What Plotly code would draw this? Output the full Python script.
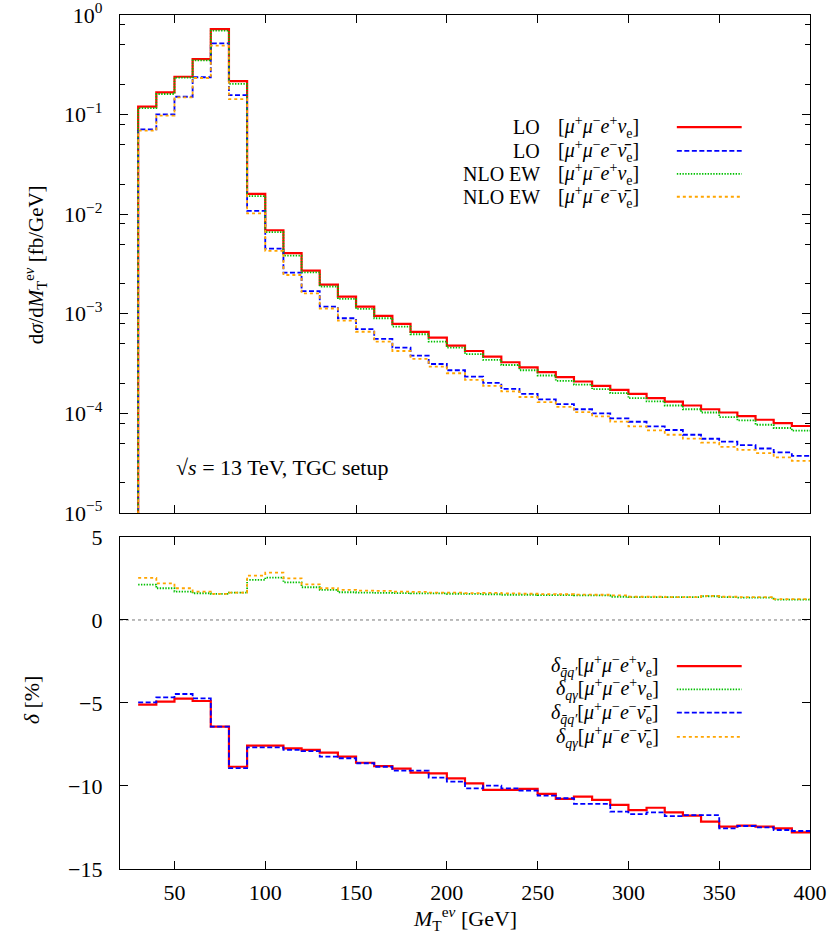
import plotly.graph_objects as go

# ---------------- data ----------------
bin_edges = list(range(30, 410, 10))  # 30 ... 400 GeV, 10 GeV bins

lo_plus = [0.120, 0.167, 0.240, 0.361, 0.723, 0.217, 0.0160, 0.00690, 0.00406, 0.00271,
           0.00196, 0.00149, 0.00118, 0.000951, 0.000791, 0.000657, 0.000575, 0.000478,
           0.000423, 0.000371, 0.000326, 0.000290, 0.000259, 0.000231, 0.000209, 0.000189,
           0.000172, 0.000157, 0.000142, 0.000131, 0.000120, 0.000110, 0.000102, 0.0000939,
           0.0000863, 0.0000800, 0.0000747]
lo_minus = [0.0711, 0.1007, 0.151, 0.237, 0.520, 0.157, 0.0108, 0.00452, 0.00259, 0.00169,
            0.00118, 0.000902, 0.000700, 0.000559, 0.000457, 0.000380, 0.000313, 0.000271,
            0.000234, 0.000202, 0.000176, 0.000157, 0.000138, 0.000124, 0.000110, 0.000100,
            0.0000889, 0.0000824, 0.0000740, 0.0000681, 0.0000610, 0.0000556, 0.0000521,
            0.0000480, 0.0000444, 0.0000405, 0.0000374]
nlo_plus = [0.116, 0.161, 0.235, 0.350, 0.696, 0.203, 0.0152, 0.00660, 0.00383, 0.00261,
            0.00188, 0.00141, 0.00112, 0.000902, 0.000743, 0.000623, 0.000525, 0.000457,
            0.000394, 0.000344, 0.000306, 0.000271, 0.000240, 0.000212, 0.000194, 0.000175,
            0.000160, 0.000142, 0.000132, 0.000120, 0.000110, 0.000102, 0.0000918, 0.0000849,
            0.0000769, 0.0000713, 0.0000671]
nlo_minus = [0.0690, 0.0977, 0.149, 0.233, 0.492, 0.143, 0.0102, 0.00428, 0.00245, 0.00160,
             0.00113, 0.000853, 0.000660, 0.000525, 0.000423, 0.000352, 0.000295, 0.000253,
             0.000217, 0.000189, 0.000166, 0.000146, 0.000130, 0.000116, 0.000103, 0.0000931,
             0.0000828, 0.0000740, 0.0000675, 0.0000610, 0.0000558, 0.0000509, 0.0000461,
             0.0000430, 0.0000398, 0.0000361, 0.0000334]

d_qq_plus = [-5.10, -4.92, -4.74, -4.88, -6.43, -8.84, -7.57, -7.57, -7.73, -7.83, -7.99,
             -8.23, -8.60, -8.80, -8.96, -9.20, -9.24, -9.54, -9.84, -10.24, -10.24, -10.18,
             -10.48, -10.78, -10.64, -10.84, -11.14, -11.45, -11.31, -11.59, -11.79, -12.15,
             -12.45, -12.39, -12.45, -12.55, -12.79]
d_qq_minus = [-4.96, -4.66, -4.46, -4.72, -6.43, -8.93, -7.67, -7.67, -7.83, -7.90, -8.23,
              -8.33, -8.63, -8.84, -9.08, -9.08, -9.50, -9.74, -10.14, -9.98, -10.14, -10.28,
              -10.58, -10.74, -11.08, -11.08, -11.55, -11.69, -11.59, -11.81, -11.75, -11.75,
              -12.55, -12.41, -12.49, -12.65, -12.71]
d_qg_plus = [2.13, 1.91, 1.71, 1.61, 1.57, 1.65, 2.41, 2.55, 2.27, 1.97, 1.81, 1.67, 1.65,
             1.63, 1.62, 1.60, 1.60, 1.58, 1.57, 1.55, 1.52, 1.52, 1.50, 1.50, 1.48, 1.48,
             1.40, 1.38, 1.38, 1.37, 1.38, 1.43, 1.38, 1.35, 1.35, 1.22, 1.22]
d_qg_minus = [2.53, 2.21, 1.91, 1.71, 1.57, 1.65, 2.67, 2.85, 2.51, 2.15, 1.91, 1.81, 1.77,
              1.75, 1.71, 1.69, 1.65, 1.65, 1.62, 1.63, 1.60, 1.58, 1.56, 1.55, 1.53, 1.52,
              1.48, 1.40, 1.40, 1.38, 1.38, 1.45, 1.40, 1.37, 1.38, 1.25, 1.25]

log_ticks = [1, 0.1, 0.01, 0.001, 0.0001, 0.00001]
log_tick_text = ["10<sup>0</sup>", "10<sup>−1</sup>", "10<sup>−2</sup>", "10<sup>−3</sup>",
                 "10<sup>−4</sup>", "10<sup>−5</sup>"]
delta_ticks = [5, 0, -5, -10, -15]
delta_tick_text = ["5", "0", "−5", "−10", "−15"]
x_ticks = [50, 100, 150, 200, 250, 300, 350, 400]
below_axis = 1e-7  # histogram is empty below 30 GeV (drawn off-scale)

# ---------------- styles ----------------
FONT = "Liberation Serif"
RED, BLUE, GREEN, ORANGE = "#ff0000", "#0000ff", "#00c000", "#ffa500"
st_red = dict(color=RED, width=2.2)
st_blue = dict(color=BLUE, width=1.8, dash="5px,2.5px")
st_green = dict(color=GREEN, width=1.8, dash="1.4px,1.4px")
st_orange = dict(color=ORANGE, width=1.8, dash="3px,3px")


def step_xy(vals, drop=False):
    xs = list(bin_edges[:-1]) + [bin_edges[-1]]
    ys = list(vals) + [vals[-1]]
    if drop:
        xs = [bin_edges[0]] + xs
        ys = [below_axis] + ys
    return xs, ys


fig = go.Figure()
for vals, st in [(lo_plus, st_red), (lo_minus, st_blue), (nlo_plus, st_green), (nlo_minus, st_orange)]:
    xs, ys = step_xy(vals, drop=True)
    fig.add_trace(go.Scatter(x=xs, y=ys, mode="lines", line=dict(shape="hv", **st),
                             xaxis="x", yaxis="y", showlegend=False))
for vals, st in [(d_qq_plus, st_red), (d_qg_plus, st_green), (d_qq_minus, st_blue), (d_qg_minus, st_orange)]:
    xs, ys = step_xy(vals)
    fig.add_trace(go.Scatter(x=xs, y=ys, mode="lines", line=dict(shape="hv", **st),
                             xaxis="x2", yaxis="y2", showlegend=False))

axis_common = dict(showline=True, linecolor="black", linewidth=1.2, mirror="ticks",
                   ticks="inside", tickcolor="black", tickwidth=1, showgrid=False,
                   zeroline=False, automargin=False, ticklabeloverflow="allow",
                   tickfont=dict(family=FONT, size=22, color="black"))

fig.update_layout(
    template="none",
    width=830, height=943,
    margin=dict(l=120, r=20, t=15, b=74),
    paper_bgcolor="white", plot_bgcolor="white",
    font=dict(family=FONT, color="black"),
    xaxis=dict(domain=[0, 1], anchor="y", range=[20, 400], tickvals=x_ticks,
               showticklabels=False, ticklen=8, **axis_common),
    yaxis=dict(domain=[0.4169, 1], anchor="x", type="log", range=[-5, 0],
               tickvals=log_ticks, ticktext=log_tick_text, ticklen=8, ticklabelstandoff=12,
               minor=dict(tickvals=[m * 10.0 ** e for e in range(-5, 0) for m in (2, 5, 8)],
                          ticks="inside", ticklen=5, tickcolor="black"),
               **axis_common),
    xaxis2=dict(domain=[0, 1], anchor="y2", range=[20, 400], tickvals=x_ticks,
                ticklen=8, ticklabelstandoff=3, **axis_common),
    yaxis2=dict(domain=[0, 0.3888], anchor="x2", range=[-15, 5],
                tickvals=delta_ticks, ticktext=delta_tick_text, ticklen=8,
                ticklabelstandoff=12, **axis_common),
)

# zero line in ratio panel
fig.add_shape(type="line", xref="x2 domain", x0=0, x1=1, yref="y2", y0=0, y1=0,
              line=dict(color="#777777", width=1, dash="3px,3px"), layer="below")

# ---------------- texts ----------------
ann_font = dict(family=FONT, size=20, color="black")
mu = "[<i>μ</i><sup>+</sup><i>μ</i><sup>−</sup>"
f_plus = mu + "<i>e</i><sup>+</sup><i>ν</i><sub>e</sub>]"
f_minus = mu + "<i>e</i><sup>−</sup><i>ν̄</i><sub>e</sub>]"

top_rows = [("LO", f_plus, st_red, 0.775), ("LO", f_minus, st_blue, 0.727),
            ("NLO EW", f_plus, st_green, 0.681), ("NLO EW", f_minus, st_orange, 0.635)]
for lab, form, st, yy in top_rows:
    fig.add_annotation(xref="x domain", yref="y domain", x=0.6116, y=yy, text=lab,
                       showarrow=False, xanchor="right", yanchor="middle", font=ann_font)
    fig.add_annotation(xref="x domain", yref="y domain", x=0.632, y=yy, text=form,
                       showarrow=False, xanchor="left", yanchor="middle", font=ann_font)
    fig.add_shape(type="line", xref="x domain", yref="y domain", x0=0.807, x1=0.901,
                  y0=yy, y1=yy, line=st)

d_qq = "<i>δ</i><sub><i>q̄q′</i></sub>"
d_qg = "<i>δ</i><sub><i>qγ</i></sub>"
bot_rows = [(d_qq + f_plus, st_red, 0.611), (d_qg + f_plus, st_green, 0.541),
            (d_qq + f_minus, st_blue, 0.471), (d_qg + f_minus, st_orange, 0.398)]
for txt, st, yy in bot_rows:
    fig.add_annotation(xref="x2 domain", yref="y2 domain", x=0.784, y=yy, text=txt,
                       showarrow=False, xanchor="right", yanchor="middle", font=ann_font)
    fig.add_shape(type="line", xref="x2 domain", yref="y2 domain", x0=0.807, x1=0.901,
                  y0=yy, y1=yy, line=st)

fig.add_annotation(xref="x domain", yref="y domain", x=0.078, y=0.092,
                   text="√<i>s</i> = 13 TeV, TGC setup", showarrow=False,
                   xanchor="left", yanchor="middle", font=dict(family=FONT, size=22))

fig.add_annotation(xref="paper", yref="paper", x=-0.123, y=0.707, textangle=-90,
                   text="d<i>σ</i>/d<i>M</i><sub>T</sub><sup>e<i>ν</i></sup> [fb/GeV]",
                   showarrow=False, xanchor="center", yanchor="middle",
                   font=dict(family=FONT, size=21))
fig.add_annotation(xref="paper", yref="paper", x=-0.127, y=0.198, textangle=-90,
                   text="<i>δ</i> [%]", showarrow=False, xanchor="center", yanchor="middle",
                   font=dict(family=FONT, size=22))
fig.add_annotation(xref="paper", yref="paper", x=0.5, y=-0.0575,
                   text="<i>M</i><sub>T</sub><sup>e<i>ν</i></sup> [GeV]", showarrow=False,
                   xanchor="center", yanchor="middle", font=dict(family=FONT, size=22))

fig.write_html("out.html", config={"displayModeBar": False},
               post_script="document.body.style.margin='0';document.body.style.padding='0';")
